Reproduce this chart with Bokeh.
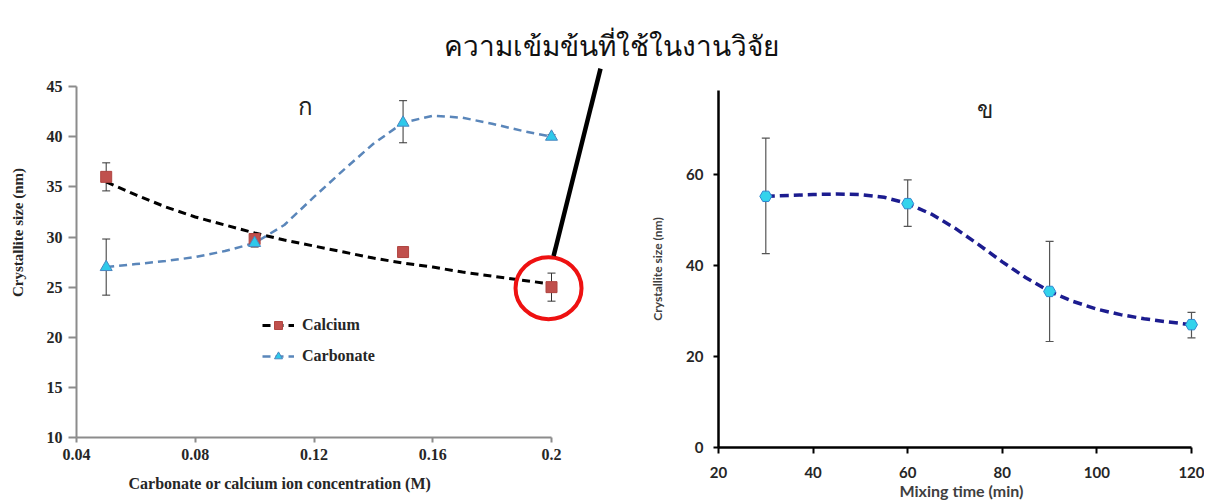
from bokeh.plotting import figure
from bokeh.models import (Range1d, FixedTicker, Whisker, TeeHead, ColumnDataSource,
                          Label, Legend, LegendItem, Title)
from bokeh.layouts import row
from bokeh.embed import file_html
from bokeh.resources import INLINE

# ---------------- data: chart ก (concentration) ----------------
CONC = [0.05, 0.10, 0.15, 0.20]
CALCIUM = [36.0, 29.8, 28.5, 25.0]
CALCIUM_LO = [34.6, 29.4, 28.0, 23.6]
CALCIUM_HI = [37.4, 30.2, 29.0, 26.4]
CARBONATE = [27.0, 29.4, 41.4, 40.0]
CARBONATE_LO = [24.2, 29.0, 39.4, 39.8]
CARBONATE_HI = [29.8, 29.8, 43.6, 40.2]

CURVE_X = [0.05, 0.06, 0.07, 0.08, 0.09, 0.10, 0.11, 0.12,
           0.13, 0.14, 0.15, 0.16, 0.17, 0.18, 0.19, 0.20]
CALCIUM_TREND = [35.5, 34.2, 33.0, 32.0, 31.2, 30.4, 29.7, 29.1,
                 28.5, 27.9, 27.4, 27.0, 26.5, 26.1, 25.7, 25.3]
CARBONATE_CURVE = [27.0, 27.3, 27.6, 28.0, 28.6, 29.4, 31.2, 34.0,
                   36.7, 39.3, 41.4, 42.1, 41.9, 41.3, 40.6, 40.0]

CONC_TICKS = [0.04, 0.08, 0.12, 0.16, 0.2]
CONC_TICK_LABELS = ["0.04", "0.08", "0.12", "0.16", "0.2"]
SIZE_TICKS_A = [10, 15, 20, 25, 30, 35, 40, 45]

# ---------------- data: chart ข (mixing time) ----------------
MIX_TIME = [30, 60, 90, 120]
MIX_SIZE = [55.2, 53.6, 34.3, 27.0]
MIX_LO = [42.6, 48.6, 23.3, 24.1]
MIX_HI = [68.0, 58.8, 45.3, 29.7]
MIX_CURVE_X = [30, 35, 40, 45, 50, 55, 60, 65, 70, 75, 80, 85, 90,
               95, 100, 105, 110, 115, 120]
MIX_CURVE_Y = [55.2, 55.4, 55.6, 55.7, 55.6, 55.0, 53.6, 51.3, 48.2, 44.6,
               40.8, 37.3, 34.3, 32.1, 30.4, 29.2, 28.3, 27.6, 27.0]
MIX_TICKS = [20, 40, 60, 80, 100, 120]
SIZE_TICKS_B = [0, 20, 40, 60]

ANNOTATION_TEXT = "ความเข้มข้นที่ใช้ในงานวิจัย"

SERIF = "Liberation Serif"
SANS = "Lato"
THAI = "Noto Sans"

# ================= left chart =================
p1 = figure(width=800, height=502,
            x_range=Range1d(0.04, 0.28387), y_range=Range1d(10, 50.9),
            output_backend="svg", toolbar_location=None,
            min_border_left=76, min_border_right=0,
            min_border_top=27, min_border_bottom=65)
p1.frame_align = False
p1.outline_line_color = None
p1.grid.visible = False

xa = p1.xaxis[0]
xa.bounds = (0.04, 0.2)
xa.ticker = FixedTicker(ticks=CONC_TICKS)
xa.major_label_overrides = dict(zip(CONC_TICKS, CONC_TICK_LABELS))
ya = p1.yaxis[0]
ya.bounds = (10, 45)
ya.ticker = FixedTicker(ticks=SIZE_TICKS_A)
ya.axis_label = "Crystallite size (nm)"
ya.axis_label_standoff = 18
ya.axis_label_text_font = SERIF
ya.axis_label_text_font_size = "15px"
ya.axis_label_text_font_style = "bold"
ya.axis_label_text_color = "#262626"
for ax in (xa, ya):
    ax.axis_line_color = "#8c8c8c"
    ax.axis_line_width = 2
    ax.major_tick_line_color = "#8c8c8c"
    ax.major_tick_line_width = 2
    ax.major_tick_in = 0
    ax.minor_tick_line_color = None
    ax.major_label_text_font = SERIF
    ax.major_label_text_font_size = "16px"
    ax.major_label_text_font_style = "bold"
    ax.major_label_text_color = "#262626"
xa.major_tick_out = 5
xa.major_label_standoff = 6
ya.major_tick_out = 8
ya.major_label_standoff = 6

p1.add_layout(Title(text="Carbonate or calcium ion concentration (M)", align="left",
                    offset=52, standoff=21, text_font=SERIF, text_font_size="16px",
                    text_font_style="bold", text_color="#262626"), "below")

src_ca = ColumnDataSource(dict(x=CONC, y=CALCIUM, lo=CALCIUM_LO, hi=CALCIUM_HI))
src_co = ColumnDataSource(dict(x=CONC, y=CARBONATE, lo=CARBONATE_LO, hi=CARBONATE_HI))

ca_line = p1.line(CURVE_X, CALCIUM_TREND, line_color="black", line_width=3, line_dash="8 5")
co_line = p1.line(CURVE_X, CARBONATE_CURVE, line_color="#5a86ba", line_width=2.5, line_dash="8 5")
for s in (src_ca, src_co):
    p1.add_layout(Whisker(source=s, base="x", lower="lo", upper="hi",
                          line_color="#333333", line_width=1,
                          lower_head=TeeHead(size=8, line_color="#333333", line_width=1),
                          upper_head=TeeHead(size=8, line_color="#333333", line_width=1)))
ca_pts = p1.scatter("x", "y", source=src_ca, marker="square", size=11,
                    fill_color="#c0504d", line_color="#b04541")
co_pts = p1.scatter("x", "y", source=src_co, marker="triangle", size=12,
                    fill_color="#2ec9ea", line_color="#4a86c0")

legend = Legend(items=[LegendItem(label="Calcium", renderers=[ca_line, ca_pts]),
                       LegendItem(label="Carbonate", renderers=[co_line, co_pts])],
                location=(186, 71), padding=0, margin=0, spacing=11,
                glyph_width=32, glyph_height=20, label_height=20, label_standoff=8,
                label_text_font=SERIF, label_text_font_size="16px",
                label_text_font_style="bold", label_text_color="#262626",
                border_line_color=None, background_fill_alpha=0)
p1.add_layout(legend)

# highlight of the concentration used (annotation)
p1.ellipse(x=[0.199], y=[24.9], width=66, height=62, width_units="screen",
           height_units="screen", fill_color=None, line_color="#ee1111", line_width=4)
p1.segment(x0=[0.2165], y0=[46.8], x1=[0.2007], y1=[28.1],
           line_color="black", line_width=4.5)
p1.add_layout(Label(x=0.2202, y=49.2, text=ANNOTATION_TEXT, text_align="center",
                    text_baseline="middle", text_font=THAI, text_font_size="28px",
                    text_color="#111111"))
p1.add_layout(Label(x=0.1171, y=43.1, text="ก", text_align="center",
                    text_baseline="middle", text_font=THAI, text_font_size="24px",
                    text_color="#222222"))

# ================= right chart =================
p2 = figure(width=584, height=502,
            x_range=Range1d(20, 122.75), y_range=Range1d(0, 78.46),
            output_backend="svg", toolbar_location=None,
            min_border_left=98, min_border_right=0,
            min_border_top=90, min_border_bottom=55,
            margin=(0, 0, 0, -180))
p2.frame_align = False
p2.outline_line_color = None
p2.grid.visible = False
p2.background_fill_color = None
p2.border_fill_color = None

xb = p2.xaxis[0]
xb.bounds = (20, 120)
xb.ticker = FixedTicker(ticks=MIX_TICKS)
xb.axis_label = "Mixing time (min)"
xb.axis_label_standoff = 0
xb.axis_label_text_font_size = "16px"
yb = p2.yaxis[0]
yb.ticker = FixedTicker(ticks=SIZE_TICKS_B)
yb.axis_label = "Crystallite size (nm)"
yb.axis_label_standoff = 18
yb.axis_label_text_font_size = "12px"
for ax in (xb, yb):
    ax.axis_line_color = "black"
    ax.axis_line_width = 2.5
    ax.major_tick_line_color = "black"
    ax.major_tick_line_width = 2
    ax.major_tick_in = 0
    ax.minor_tick_line_color = None
    ax.major_label_text_font = SANS
    ax.major_label_text_font_size = "15px"
    ax.major_label_text_font_style = "bold"
    ax.major_label_text_color = "#262626"
    ax.axis_label_text_font = SANS
    ax.axis_label_text_font_style = "bold"
    ax.axis_label_text_color = "#404040"
xb.major_tick_out = 6
xb.major_label_standoff = 13
yb.major_tick_out = 5
yb.major_label_standoff = 10

src_mix = ColumnDataSource(dict(x=MIX_TIME, y=MIX_SIZE, lo=MIX_LO, hi=MIX_HI))
p2.line(MIX_CURVE_X, MIX_CURVE_Y, line_color="#1c1c8f", line_width=3.5, line_dash="9 5")
p2.add_layout(Whisker(source=src_mix, base="x", lower="lo", upper="hi",
                      line_color="#555555", line_width=1.2,
                      lower_head=TeeHead(size=8, line_color="#555555", line_width=1.2),
                      upper_head=TeeHead(size=8, line_color="#555555", line_width=1.2)))
p2.scatter("x", "y", source=src_mix, marker="hex", size=12,
           fill_color="#33d3ec", line_color="#2f86d0")
p2.add_layout(Label(x=76.4, y=74.5, text="ข", text_align="center",
                    text_baseline="middle", text_font=THAI, text_font_size="24px",
                    text_color="#222222"))

layout = row(p1, p2)
open("out.html", "w").write(file_html(layout, INLINE))
